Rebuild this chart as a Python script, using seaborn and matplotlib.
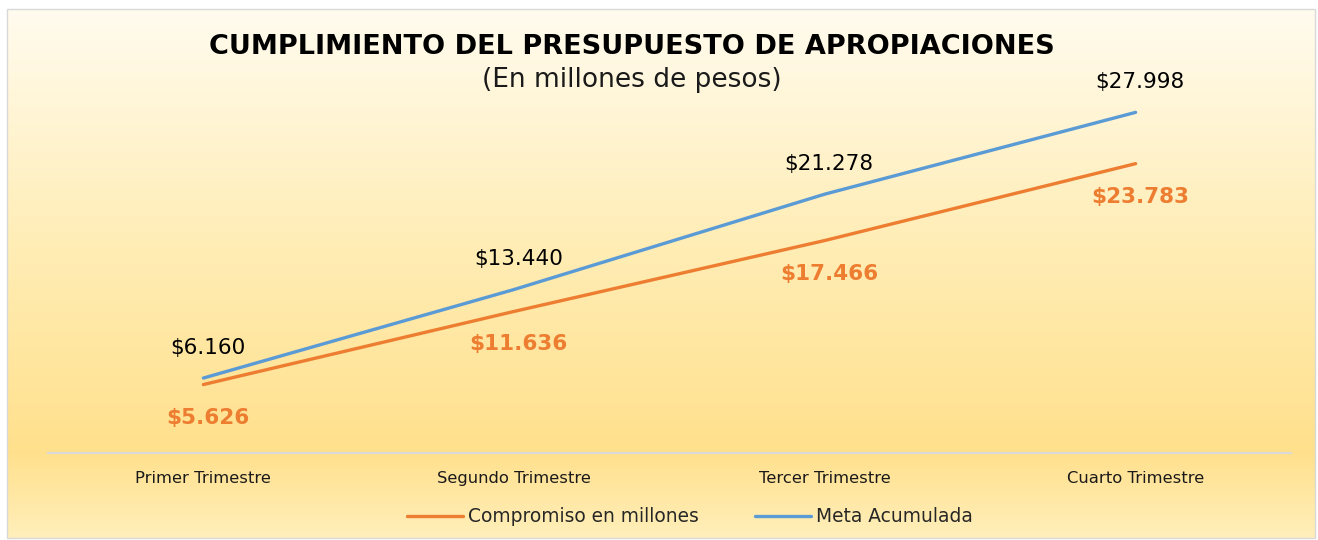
import numpy as np
import pandas as pd
import matplotlib
matplotlib.use("Agg")
import matplotlib.pyplot as plt
import seaborn as sns
from matplotlib.colors import LinearSegmentedColormap
from matplotlib.patches import Rectangle
from matplotlib.lines import Line2D

categories = ["Primer Trimestre", "Segundo Trimestre", "Tercer Trimestre", "Cuarto Trimestre"]
compromiso = [5626, 11636, 17466, 23783]
meta = [6160, 13440, 21278, 27998]
compromiso_labels = ["$5.626", "$11.636", "$17.466", "$23.783"]
meta_labels = ["$6.160", "$13.440", "$21.278", "$27.998"]
series_names = ["Compromiso en millones", "Meta Acumulada"]
title = "CUMPLIMIENTO DEL PRESUPUESTO DE APROPIACIONES"
subtitle = "(En millones de pesos)"

ORANGE = "#ED7D31"
BLUE = "#5B9BD5"

df = pd.DataFrame({
    "Trimestre": categories * 2,
    "idx": list(range(4)) * 2,
    "Valor": compromiso + meta,
    "Serie": [series_names[0]] * 4 + [series_names[1]] * 4,
})

sns.set_theme(style="white")
plt.rcParams['font.family'] = ['DejaVu Sans']

W, H = 1318, 540
fig = plt.figure(figsize=(W / 100, H / 100), dpi=100)
fig.patch.set_facecolor("white")

# background gradient
bg = fig.add_axes([7 / W, 1 - 538 / H, (1315 - 7) / W, (538 - 9) / H])
cmap = LinearSegmentedColormap.from_list("bg", [
    (0.0, (1.0, 0.985, 0.935)),
    (0.45, (1.0, 0.930, 0.71)),
    (0.84, (1.0, 0.878, 0.55)),
    (1.0, (1.0, 0.937, 0.73)),
])
grad = np.linspace(0, 1, 400).reshape(-1, 1)
bg.imshow(grad, aspect="auto", cmap=cmap, extent=[0, 1, 0, 1], origin="upper")
bg.set_axis_off()
fig.patches.append(Rectangle((7 / W, 1 - 538 / H), (1315 - 7) / W, (538 - 9) / H,
                             transform=fig.transFigure, fill=False,
                             edgecolor="#D9D9D9", linewidth=1.0, zorder=10))

ax = fig.add_axes([48 / W, 1 - 453 / H, (1291 - 48) / W, (453 - 88) / H])
ax.patch.set_alpha(0)
sns.lineplot(data=df, x="idx", y="Valor", hue="Serie", palette=[ORANGE, BLUE],
             linewidth=2.4, ax=ax, legend=False, sort=False)
ax.set_xlim(-0.5, 3.5)
ax.set_ylim(0, 30000)
ax.set_xticks(range(4))
ax.set_xticklabels(categories, fontsize=11.8, color="#1a1a1a")
ax.tick_params(axis="x", length=0, pad=13)
ax.set_yticks([])
ax.set_xlabel("")
ax.set_ylabel("")
for s in ["top", "left", "right"]:
    ax.spines[s].set_visible(False)
ax.spines["bottom"].set_color("#D9D9D9")
ax.spines["bottom"].set_linewidth(1.5)

for i in range(4):
    ax.annotate(meta_labels[i], (i, meta[i]), xytext=(3, 21.6), textcoords="offset points",
                ha="center", va="center", fontsize=15.5, color="black")
    ax.annotate(compromiso_labels[i], (i, compromiso[i]), xytext=(3, -23.8), textcoords="offset points",
                ha="center", va="center", fontsize=15.5, color=ORANGE, fontweight="bold")

fig.text(632 / W, 1 - 47 / H, title, ha="center", va="center", fontsize=19.5, fontweight="bold", color="black")
fig.text(632 / W, 1 - 80 / H, subtitle, ha="center", va="center", fontsize=19, color="#1a1a1a")

handles = [Line2D([0], [0], color=ORANGE, lw=2.4), Line2D([0], [0], color=BLUE, lw=2.4)]
fig.legend(handles, series_names, loc="center", bbox_to_anchor=(690 / W, 1 - 517 / H), ncol=2,
           frameon=False, fontsize=13.4, handlelength=3.0, handletextpad=0.3, columnspacing=3.0)

fig.savefig("out.png", dpi=100, facecolor="white")
